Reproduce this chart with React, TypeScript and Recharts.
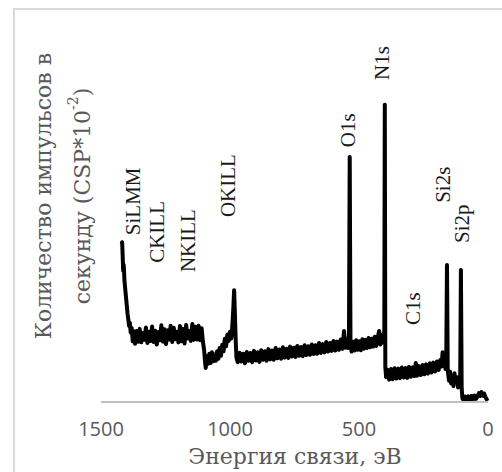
import React from "react";
import { LineChart, Line, XAxis, YAxis, ReferenceDot } from "recharts";

type Pt = [number, number];

// binding energy (eV), counts (CSP*10^-2)
const siLmmEdge: Pt[] = [
  [1420, 44.5], [1418, 45.0], [1416, 41.2], [1414, 37.0], [1412, 38.6], [1409, 34.2],
  [1406, 31.8], [1403, 29.4], [1400, 27.1], [1397, 24.8], [1394, 23.2], [1391, 21.4],
  [1388, 22.3], [1385, 19.6], [1381, 20.8], [1377, 17.1], [1373, 19.9],
];

const siLmmPlateau: Pt[] = [
  [1368, 16.4], [1362, 20.0], [1356, 17.0], [1350, 20.6], [1344, 16.8], [1338, 19.4],
  [1332, 17.5], [1326, 21.0], [1320, 16.6], [1314, 19.8], [1308, 17.2], [1302, 21.3],
  [1296, 16.9], [1290, 20.1], [1284, 16.2], [1278, 19.7], [1272, 17.4], [1266, 21.6],
  [1260, 17.0], [1254, 20.5], [1248, 16.3], [1242, 20.2], [1236, 17.6], [1230, 21.5],
  [1224, 16.9], [1218, 20.9], [1212, 17.7], [1206, 19.8], [1200, 16.8], [1194, 21.4],
  [1188, 17.1], [1182, 20.6], [1176, 16.5], [1170, 21.7], [1164, 17.9], [1158, 20.0],
  [1152, 17.2], [1146, 22.0], [1140, 17.5], [1134, 21.2], [1128, 17.6], [1122, 21.5],
  [1116, 17.4], [1110, 20.8], [1105, 17.0],
];

const oKllRegion: Pt[] = [
  [1100, 14.5], [1097, 11.5], [1094, 9.6], [1090, 12.9], [1085, 10.8], [1080, 13.6],
  [1075, 11.0], [1070, 14.0], [1065, 11.5], [1060, 13.4], [1055, 11.6], [1050, 14.3],
  [1045, 12.2], [1040, 15.2], [1035, 13.0], [1030, 16.1], [1025, 14.3], [1020, 17.8],
  [1015, 15.7], [1010, 19.0], [1005, 17.2], [1000, 19.8], [995, 17.9], [991, 21.4],
  [987, 26.5], [984, 31.5], [981, 25.0], [978, 17.5], [975, 12.4],
];

const midBackground: Pt[] = [
  [970, 11.2], [963, 13.9], [956, 11.4], [949, 13.6], [942, 10.9], [935, 14.1],
  [928, 11.6], [921, 13.8], [914, 11.2], [907, 14.4], [900, 11.7], [893, 14.0],
  [886, 11.3], [879, 14.6], [872, 11.9], [865, 14.3], [858, 11.6], [851, 14.9],
  [844, 12.0], [837, 14.5], [830, 11.9], [823, 15.2], [816, 12.3], [809, 14.8],
  [802, 12.2], [795, 15.4], [788, 12.5], [781, 15.0], [774, 12.4], [767, 15.6],
  [760, 12.8], [753, 15.3], [746, 12.7], [739, 15.8], [732, 13.0], [725, 15.5],
  [718, 12.9], [711, 16.0], [704, 13.2], [697, 15.7], [690, 13.3], [683, 16.2],
  [676, 13.5], [669, 16.0], [662, 13.6], [655, 16.6], [648, 13.8], [641, 16.3],
  [634, 14.0], [627, 16.9], [620, 14.2], [613, 16.6], [606, 14.4], [599, 17.2],
  [592, 14.5], [585, 17.0], [578, 14.7], [571, 17.6], [564, 15.0], [558, 20.0],
  [553, 15.3], [548, 17.8], [543, 15.2],
];

const o1sToN1s: Pt[] = [
  [539, 16.4], [536, 69.0], [533, 16.9],
  [529, 14.2], [523, 17.0], [517, 14.5], [511, 17.4], [505, 14.7], [499, 17.1],
  [493, 14.6], [487, 17.7], [481, 15.0], [475, 17.5], [469, 15.2], [463, 18.0],
  [457, 15.4], [451, 17.8], [445, 15.6], [439, 18.4], [433, 15.8], [427, 18.2],
  [422, 20.0], [417, 16.2], [412, 18.9], [407, 16.8], [404, 19.4],
  [402, 18.2], [400, 83.7], [398, 10.0], [395, 7.0],
];

const lowEnergy: Pt[] = [
  [390, 9.1], [383, 6.3], [376, 9.3], [369, 6.4], [362, 9.5], [355, 6.6],
  [348, 9.4], [341, 6.7], [334, 9.7], [327, 6.9], [320, 9.6], [313, 6.8],
  [306, 9.9], [299, 7.1], [292, 9.8], [285, 7.3], [280, 11.0], [275, 7.4],
  [268, 10.1], [261, 7.6], [254, 10.4], [247, 7.8], [240, 10.6], [233, 8.0],
  [226, 10.9], [219, 8.3], [212, 11.1], [205, 8.6], [198, 11.4], [191, 9.0],
  [185, 11.8], [180, 10.0], [176, 14.0], [172, 10.4], [168, 12.6], [165, 9.3],
  [162, 10.8], [159, 38.6], [156, 8.8],
  [151, 6.0], [147, 8.5], [143, 5.2], [139, 7.1], [134, 4.5], [130, 8.1],
  [126, 5.7], [121, 7.0], [116, 4.1], [111, 5.8], [108, 4.4],
  [105, 37.2], [102, 3.8],
  [99, 1.0], [94, 0.4], [88, 1.5], [82, 0.5], [76, 1.6], [70, 0.6],
  [64, 1.7], [58, 0.7], [52, 1.8], [46, 0.9], [40, 1.7], [35, 2.5],
  [30, 1.7], [25, 2.8], [20, 1.8], [15, 2.4], [10, 1.4], [6, 0.9], [2, 0.3],
];

const energyTicks = [1500, 1000, 500, 0];

const peakNames = ["SiLMM", "CKILL", "NKILL", "OKILL", "O1s", "N1s", "C1s", "Si2s", "Si2p"];
const peakLabelEv = [1374, 1281, 1164, 1009, 543, 411, 291, 175, 101];

// where each rotated label starts (in counts units)
const labelBase = [47.0, 39.2, 36.6, 52.1, 71.8, 90.7, 21.7, 56.1, 44.8];

const spectrum = [
  ...siLmmEdge,
  ...siLmmPlateau,
  ...oKllRegion,
  ...midBackground,
  ...o1sToN1s,
  ...lowEnergy,
].map(([eV, cps]) => ({ eV, cps }));

const SERIF = "'Liberation Serif', 'Times New Roman', serif";
const TITLE_SERIF = "'DejaVu Serif', serif";
const GREY = "#595959";

function PeakLabel(props: any) {
  const { viewBox, value } = props;
  const x = viewBox?.x ?? 0;
  const y = viewBox?.y ?? 0;
  return (
    <text
      x={x}
      y={y}
      transform={`rotate(-90, ${x}, ${y})`}
      textAnchor="start"
      dominantBaseline="central"
      fontFamily={SERIF}
      fontSize={21}
      fill="#1a1a1a"
    >
      {value}
    </text>
  );
}

export default function App() {
  return (
    <div
      style={{
        position: "fixed",
        left: 0,
        top: 0,
        width: 502,
        height: 472,
        overflow: "hidden",
        background: "#fff",
      }}
    >
      <div
        style={{
          position: "absolute",
          left: 13,
          top: 8,
          width: 600,
          height: 600,
          border: "2px solid #d9d9d9",
        }}
      />
      <div style={{ position: "absolute", left: 0, top: 0 }}>
        <LineChart
          width={502}
          height={472}
          data={spectrum}
          margin={{ top: 47, right: 14, bottom: 40, left: 101 }}
        >
          <XAxis
            type="number"
            dataKey="eV"
            domain={[0, 1500]}
            reversed
            ticks={energyTicks}
            tickLine={false}
            tickMargin={14}
            height={30}
            axisLine={{ stroke: "#bfbfbf", strokeWidth: 2 }}
            tick={{ fill: GREY, fontSize: 20, fontFamily: "'Open Sans', sans-serif" }}
            interval={0}
          />
          <YAxis
            type="number"
            domain={[0, 100]}
            width={0}
            tick={false}
            tickLine={false}
            axisLine={{ stroke: "#bfbfbf", strokeWidth: 2 }}
          />
          <Line
            type="linear"
            dataKey="cps"
            stroke="#000"
            strokeWidth={4}
            strokeLinejoin="round"
            dot={false}
            isAnimationActive={false}
          />
          {peakNames.map((name, i) => (
            <ReferenceDot
              key={name}
              x={peakLabelEv[i]}
              y={labelBase[i]}
              r={0}
              fill="none"
              stroke="none"
              label={{ value: name, content: <PeakLabel /> }}
            />
          ))}
        </LineChart>
      </div>
      <svg
        width={502}
        height={472}
        style={{ position: "absolute", left: 0, top: 0, pointerEvents: "none" }}
      >
        <g fontFamily={TITLE_SERIF} fontSize={22} fill={GREY}>
          <text
            x={43}
            y={196}
            transform="rotate(-90, 43, 196)"
            textAnchor="middle"
            dominantBaseline="central"
          >
            Количество импульсов в
          </text>
          <text
            x={82}
            y={196}
            transform="rotate(-90, 82, 196)"
            textAnchor="middle"
            dominantBaseline="central"
          >
            секунду (CSP*10
            <tspan fontSize={14} dy={-9}>
              -2
            </tspan>
            <tspan dy={9}>)</tspan>
          </text>
          <text x={295} y={464} textAnchor="middle">
            Энергия связи, эВ
          </text>
        </g>
      </svg>
    </div>
  );
}
